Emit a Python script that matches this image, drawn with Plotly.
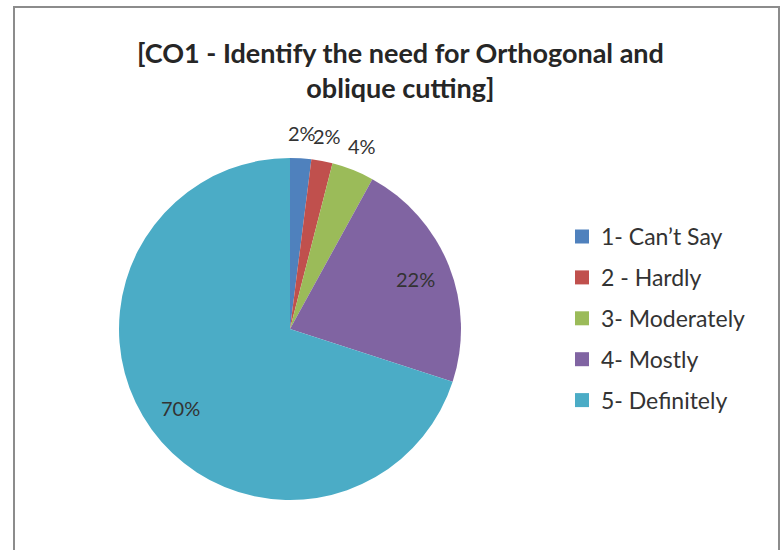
import math
import plotly.graph_objects as go

labels = ["1- Can\u2019t Say", "2 - Hardly", "3- Moderately", "4- Mostly", "5- Definitely"]
values = [1, 1, 2, 11, 35]
colors = ["#4F81BD", "#C0504D", "#9BBB59", "#8064A2", "#4BACC6"]
label_inside = [False, False, False, True, True]
title_text = "[CO1 - Identify the need for Orthogonal and<br>oblique cutting]"

W, H = 783, 550
FONT = "Lato"

# pie geometry (pixels)
CX, CY, R = 290, 329, 171

fig = go.Figure()
fig.add_trace(go.Pie(
    labels=labels, values=values, sort=False, direction="clockwise", rotation=0,
    marker=dict(colors=colors, line=dict(width=0)),
    textinfo="none",
    domain=dict(x=[(CX - R) / W, (CX + R) / W], y=[1 - (CY + R) / H, 1 - (CY - R) / H]),
    showlegend=False, hoverinfo="label+percent",
))

shapes = [dict(type="rect", xref="paper", yref="paper",
               x0=14 / W, x1=779 / W, y0=-0.05, y1=1 - 7 / H,
               line=dict(color="#8C8C8C", width=2), fillcolor="rgba(0,0,0,0)")]
annotations = [dict(text="<b>" + title_text + "</b>", xref="paper", yref="paper",
                    x=400 / W, y=1 - 70 / H, xanchor="center", yanchor="middle",
                    showarrow=False, align="center",
                    font=dict(family=FONT, size=27, color="#262626"))]

# data labels placed along the slice mid-angles
total = sum(values)
cum = 0
for v, inside in zip(values, label_inside):
    mid = (cum + v / 2) / total * 2 * math.pi
    cum += v
    rr = R * (0.79 if inside else 1.15)
    px = CX + rr * math.sin(mid)
    py = CY - rr * math.cos(mid)
    annotations.append(dict(text=f"{round(100 * v / total)}%", xref="paper", yref="paper",
                            x=px / W, y=1 - py / H, xanchor="center", yanchor="middle",
                            showarrow=False,
                            font=dict(family=FONT, size=20, color="#333333")))

leg_x0, leg_y0, leg_dy = 575, 236.5, 40.9
for i, (lab, col) in enumerate(zip(labels, colors)):
    yc = leg_y0 + i * leg_dy
    shapes.append(dict(type="rect", xref="paper", yref="paper",
                       x0=leg_x0 / W, x1=(leg_x0 + 14) / W,
                       y0=1 - (yc + 7) / H, y1=1 - (yc - 7) / H,
                       fillcolor=col, line=dict(width=0)))
    annotations.append(dict(text=lab, xref="paper", yref="paper",
                            x=(leg_x0 + 24) / W, y=1 - yc / H,
                            xanchor="left", yanchor="middle", showarrow=False,
                            font=dict(family=FONT, size=23, color="#333333")))

fig.update_layout(width=W, height=H, margin=dict(l=0, r=0, t=0, b=0),
                  paper_bgcolor="white", plot_bgcolor="white",
                  shapes=shapes, annotations=annotations)
fig.write_html("out.html", config={"displayModeBar": False},
               post_script="document.body.style.margin='0';document.body.style.overflow='hidden';")
